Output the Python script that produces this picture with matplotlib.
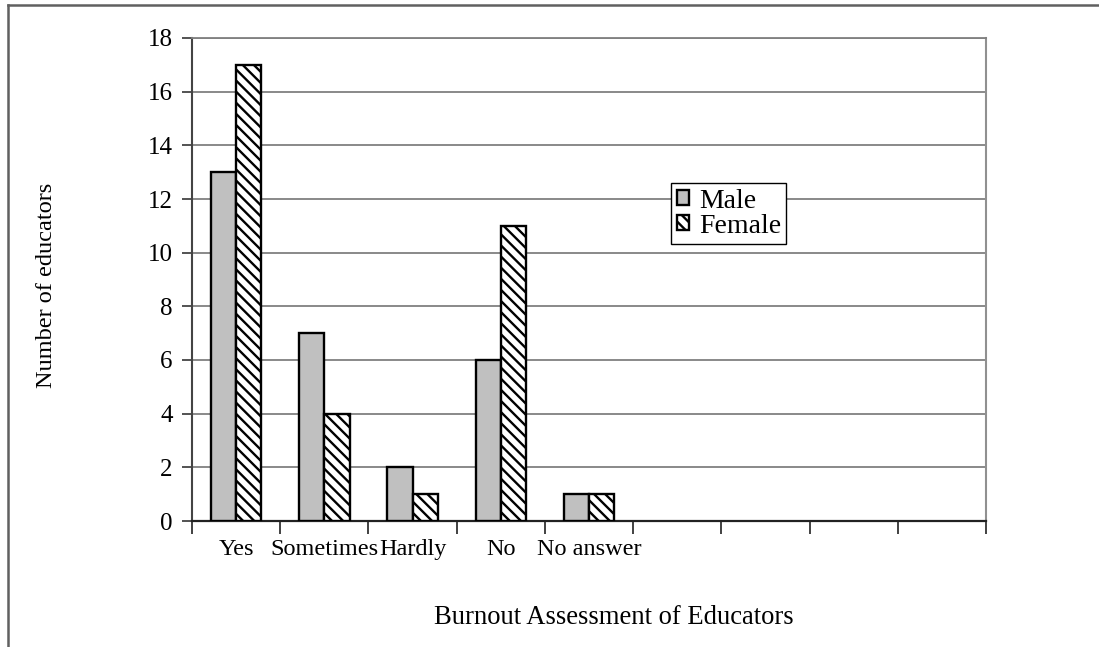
import matplotlib.pyplot as plt
from matplotlib.lines import Line2D
import numpy as np

plt.rcParams['font.family'] = 'Liberation Serif'
plt.rcParams['hatch.linewidth'] = 1.7

# survey answers, 9 category slots on the axis (last four empty)
answers = ['Yes', 'Sometimes', 'Hardly', 'No', 'No answer']
n_slots = 9
male = [13, 7, 2, 6, 1]
female = [17, 4, 1, 11, 1]
y_ticks = list(range(0, 19, 2))

fs = 17.5
fig = plt.figure(figsize=(10.99, 6.47), dpi=100)
ax = fig.add_axes([192 / 1099, 1 - 521 / 647, (986 - 192) / 1099, (521 - 38) / 647])

x = np.arange(len(answers)) + 0.5
w = 1 / 3.5
ax.bar(x - w / 2, male, w, color='#c0c0c0', edgecolor='black', linewidth=1.7, label='Male', zorder=3)
ax.bar(x + w / 2, female, w, color='white', edgecolor='black', linewidth=1.7, hatch='\\\\\\',
       label='Female', zorder=3)

ax.set_xlim(0, n_slots)
ax.set_ylim(0, 18)
ax.set_yticks(y_ticks)
ax.set_yticklabels([str(v) for v in y_ticks], fontsize=18)
ax.tick_params(axis='y', direction='out', length=7, width=1.3, color='#444444', pad=7)

# ticks between categories, labels under category centres
ax.set_xticks(np.arange(n_slots + 1))
ax.set_xticklabels([])
ax.tick_params(axis='x', which='major', direction='out', length=9, width=1.3, color='#333333')
ax.set_xticks(x, minor=True)
ax.set_xticklabels(answers, minor=True, fontsize=fs)
ax.tick_params(axis='x', which='minor', length=0, pad=13)

ax.yaxis.grid(True, color='#808080', linewidth=1.3, zorder=0)
ax.set_axisbelow(True)
ax.spines['left'].set_color('#444444')
ax.spines['left'].set_linewidth(1.5)
ax.spines['bottom'].set_color('#222222')
ax.spines['bottom'].set_linewidth(1.6)
ax.spines['right'].set_color('#909090')
ax.spines['right'].set_linewidth(1.5)
ax.spines['top'].set_color('#808080')
ax.spines['top'].set_linewidth(1.3)

leg = ax.legend(loc='upper left', bbox_to_anchor=((671 - 192) / (986 - 192), (521 - 183) / (521 - 38)),
                fontsize=20, frameon=True, fancybox=False, framealpha=1, edgecolor='black',
                handlelength=0.45, handleheight=0.45, handletextpad=0.35, borderpad=0.2,
                labelspacing=0.0, borderaxespad=0)
leg.get_frame().set_linewidth(1.0)
leg.set_zorder(5)

fig.text(614 / 1099, 1 - 618 / 647, 'Burnout Assessment of Educators', fontsize=19.2,
         ha='center', va='center')
fig.text(47 / 1099, 1 - 285 / 647, 'Number of educators', fontsize=fs, rotation=90,
         ha='center', va='center')

# outer chart border
fig.add_artist(Line2D([8 / 1099, 8 / 1099], [0, 1 - 5 / 647], transform=fig.transFigure,
                      color='#606060', linewidth=1.8))
fig.add_artist(Line2D([8 / 1099, 1], [1 - 5 / 647, 1 - 5 / 647], transform=fig.transFigure,
                      color='#606060', linewidth=1.8))

fig.savefig('out.png', dpi=100)
